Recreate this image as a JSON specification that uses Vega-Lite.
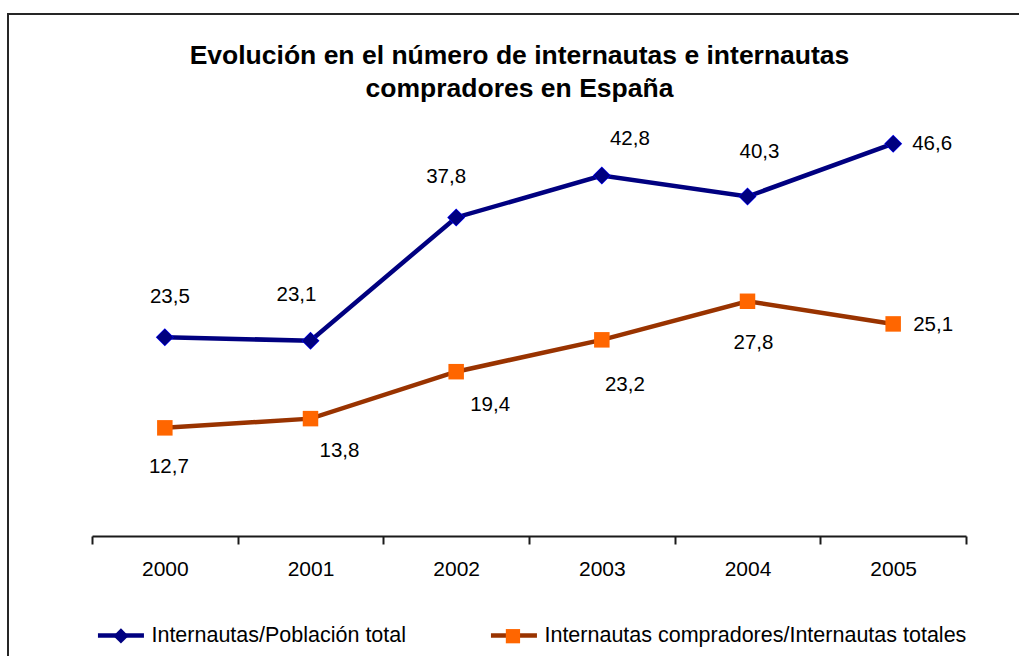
{
  "$schema": "https://vega.github.io/schema/vega-lite/v6.json",
  "width": 1011,
  "height": 642,
  "autosize": {"type": "none"},
  "padding": {"left": 8, "top": 14, "right": 0, "bottom": 0},
  "background": "white",
  "config": {
    "view": {"stroke": "#262626", "strokeWidth": 2, "strokeDash": [1011, 1653, 642]},
    "font": "Liberation Sans",
    "text": {"font": "Liberation Sans", "fontSize": 20.5, "fill": "black"},
    "locale": {"number": {"decimal": ",", "thousands": ".", "grouping": [3], "currency": ["", " €"]}}
  },
  "title": {
    "text": ["Evolución en el número de internautas e internautas", "compradores en España"],
    "font": "Liberation Sans",
    "fontSize": 26.5,
    "fontWeight": "bold",
    "color": "black",
    "anchor": "middle",
    "frame": "group",
    "offset": -88,
    "baseline": "top",
    "lineHeight": 33,
    "dx": 6
  },
  "data": {
    "values": [
      {"year": 2000, "serie": "Internautas/Población total", "value": 23.5},
      {"year": 2001, "serie": "Internautas/Población total", "value": 23.1},
      {"year": 2002, "serie": "Internautas/Población total", "value": 37.8},
      {"year": 2003, "serie": "Internautas/Población total", "value": 42.8},
      {"year": 2004, "serie": "Internautas/Población total", "value": 40.3},
      {"year": 2005, "serie": "Internautas/Población total", "value": 46.6},
      {"year": 2000, "serie": "Internautas compradores/Internautas totales", "value": 12.7},
      {"year": 2001, "serie": "Internautas compradores/Internautas totales", "value": 13.8},
      {"year": 2002, "serie": "Internautas compradores/Internautas totales", "value": 19.4},
      {"year": 2003, "serie": "Internautas compradores/Internautas totales", "value": 23.2},
      {"year": 2004, "serie": "Internautas compradores/Internautas totales", "value": 27.8},
      {"year": 2005, "serie": "Internautas compradores/Internautas totales", "value": 25.1}
    ]
  },
  "encoding": {
    "x": {
      "field": "year",
      "type": "quantitative",
      "scale": {"domain": [1999.5, 2005.5], "range": [84, 958], "nice": false, "zero": false},
      "axis": {
        "orient": "bottom",
        "offset": -120,
        "title": null,
        "grid": false,
        "values": [1999.5, 2000, 2000.5, 2001, 2001.5, 2002, 2002.5, 2003, 2003.5, 2004, 2004.5, 2005, 2005.5],
        "domainColor": "#1a1a1a",
        "domainWidth": 2,
        "tickColor": "#1a1a1a",
        "tickWidth": 2,
        "tickSize": 8,
        "tickOpacity": {"condition": {"test": "datum.value % 1 === 0", "value": 0}, "value": 1},
        "labelExpr": "datum.value % 1 === 0 ? toString(datum.value) : ''",
        "labelFont": "Liberation Sans",
        "labelFontSize": 21,
        "labelColor": "black",
        "labelPadding": 14.5,
        "labelOverlap": false,
        "labelFlush": false,
        "labelBound": false
      }
    },
    "y": {
      "field": "value",
      "type": "quantitative",
      "scale": {"domain": [0, 50], "range": [520.3, 101.2], "nice": false, "zero": false},
      "axis": null
    }
  },
  "layer": [
    {
      "mark": {"type": "line", "strokeWidth": 4.5},
      "encoding": {
        "stroke": {
          "field": "serie",
          "type": "nominal",
          "sort": "descending",
          "scale": {"range": ["#000080", "#993300"]},
          "legend": {
            "title": null,
            "orient": "none",
            "legendX": 87.45,
            "legendY": 596,
            "direction": "horizontal",
            "symbolType": "stroke",
            "symbolSize": 2116,
            "symbolStrokeWidth": 4.5,
            "labelFont": "Liberation Sans",
            "labelFontSize": 21.5,
            "labelColor": "black",
            "labelOffset": 5,
            "labelLimit": 0,
            "columnPadding": 75,
            "padding": 0,
            "zindex": 1
          }
        }
      }
    },
    {
      "transform": [{"filter": "datum.serie === 'Internautas/Población total'"}],
      "mark": {"type": "point", "filled": true, "size": 2975, "opacity": 1, "color": "#0000FF", "strokeWidth": 0, "shape": "M0,-0.33L0.33,0L0,0.33L-0.33,0Z"}
    },
    {
      "mark": {"type": "point", "filled": true, "size": 2500, "opacity": 1, "strokeWidth": 0},
      "encoding": {
        "fill": {
          "field": "serie",
          "type": "nominal",
          "scale": {"domain": ["Internautas/Población total", "Internautas compradores/Internautas totales"], "range": ["#000080", "#FF6600"]},
          "legend": {
            "title": null,
            "orient": "none",
            "legendX": 87.45,
            "legendY": 596,
            "direction": "horizontal",
            "symbolSize": 2116,
            "symbolStrokeWidth": 4.5,
            "symbolStrokeColor": "transparent",
            "symbolOpacity": 1,
            "labelFont": "Liberation Sans",
            "labelFontSize": 21.5,
            "labelExpr": "''",
            "labelOffset": 5,
            "labelLimit": 0,
            "columnPadding": 336,
            "padding": 0,
            "zindex": 2,
            "encode": {"symbols": {"update": {"stroke": {"value": "transparent"}}}}
          }
        },
        "shape": {
          "field": "serie",
          "type": "nominal",
          "scale": {"domain": ["Internautas/Población total", "Internautas compradores/Internautas totales"], "range": ["M0,-0.33L0.33,0L0,0.33L-0.33,0Z", "M-0.31,-0.31H0.31V0.31H-0.31Z"]},
          "legend": {
            "title": null,
            "orient": "none",
            "legendX": 87.45,
            "legendY": 596,
            "direction": "horizontal",
            "symbolSize": 2116,
            "symbolStrokeWidth": 4.5,
            "symbolStrokeColor": "transparent",
            "symbolOpacity": 1,
            "labelFont": "Liberation Sans",
            "labelFontSize": 21.5,
            "labelExpr": "''",
            "labelOffset": 5,
            "labelLimit": 0,
            "columnPadding": 336,
            "padding": 0,
            "zindex": 2,
            "encode": {"symbols": {"update": {"stroke": {"value": "transparent"}}}}
          }
        }
      }
    },
    {"transform": [{"filter": "datum.serie === 'Internautas/Población total' && datum.year === 2000"}], "mark": {"type": "text", "dx": 5, "dy": -40}, "encoding": {"text": {"field": "value", "type": "quantitative", "format": ".1f"}}},
    {"transform": [{"filter": "datum.serie === 'Internautas/Población total' && datum.year === 2001"}], "mark": {"type": "text", "dx": -14, "dy": -46}, "encoding": {"text": {"field": "value", "type": "quantitative", "format": ".1f"}}},
    {"transform": [{"filter": "datum.serie === 'Internautas/Población total' && datum.year === 2002"}], "mark": {"type": "text", "dx": -10, "dy": -40}, "encoding": {"text": {"field": "value", "type": "quantitative", "format": ".1f"}}},
    {"transform": [{"filter": "datum.serie === 'Internautas/Población total' && datum.year === 2003"}], "mark": {"type": "text", "dx": 28, "dy": -37}, "encoding": {"text": {"field": "value", "type": "quantitative", "format": ".1f"}}},
    {"transform": [{"filter": "datum.serie === 'Internautas/Población total' && datum.year === 2004"}], "mark": {"type": "text", "dx": 12, "dy": -45}, "encoding": {"text": {"field": "value", "type": "quantitative", "format": ".1f"}}},
    {"transform": [{"filter": "datum.serie === 'Internautas/Población total' && datum.year === 2005"}], "mark": {"type": "text", "dx": 39, "dy": 0}, "encoding": {"text": {"field": "value", "type": "quantitative", "format": ".1f"}}},
    {"transform": [{"filter": "datum.serie !== 'Internautas/Población total' && datum.year === 2000"}], "mark": {"type": "text", "dx": 4, "dy": 39}, "encoding": {"text": {"field": "value", "type": "quantitative", "format": ".1f"}}},
    {"transform": [{"filter": "datum.serie !== 'Internautas/Población total' && datum.year === 2001"}], "mark": {"type": "text", "dx": 29, "dy": 32}, "encoding": {"text": {"field": "value", "type": "quantitative", "format": ".1f"}}},
    {"transform": [{"filter": "datum.serie !== 'Internautas/Población total' && datum.year === 2002"}], "mark": {"type": "text", "dx": 34, "dy": 33}, "encoding": {"text": {"field": "value", "type": "quantitative", "format": ".1f"}}},
    {"transform": [{"filter": "datum.serie !== 'Internautas/Población total' && datum.year === 2003"}], "mark": {"type": "text", "dx": 23, "dy": 45}, "encoding": {"text": {"field": "value", "type": "quantitative", "format": ".1f"}}},
    {"transform": [{"filter": "datum.serie !== 'Internautas/Población total' && datum.year === 2004"}], "mark": {"type": "text", "dx": 6, "dy": 42}, "encoding": {"text": {"field": "value", "type": "quantitative", "format": ".1f"}}},
    {"transform": [{"filter": "datum.serie !== 'Internautas/Población total' && datum.year === 2005"}], "mark": {"type": "text", "dx": 40, "dy": 1}, "encoding": {"text": {"field": "value", "type": "quantitative", "format": ".1f"}}}
  ]
}
